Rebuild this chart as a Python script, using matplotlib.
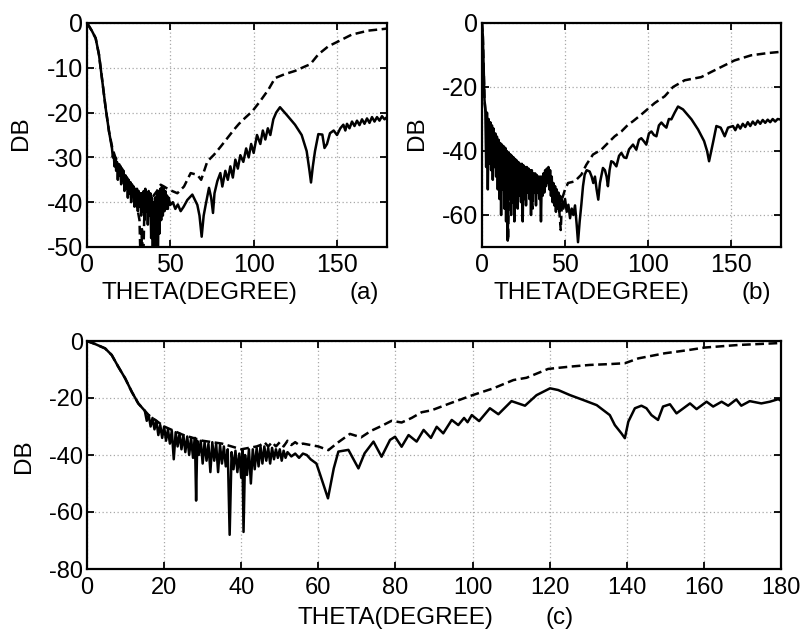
import matplotlib
matplotlib.use("Agg")
import matplotlib.pyplot as plt

plt.rcParams['font.family'] = ['Liberation Sans', 'DejaVu Sans']
plt.rcParams['axes.unicode_minus'] = False

# ---------------- panel (a) ----------------
theta_a_solid = [0, 1.2, 3, 5.2, 7.2, 9.2, 11.2, 13.2, 15,
    15.5, 16, 16.5, 17, 17.5, 18, 18.5, 19, 19.5, 20, 20.5, 21, 21.5, 22, 22.5, 23, 23.5, 24, 24.5,
    25, 25.5, 26, 26.5, 27, 27.5, 28, 28.5, 29, 29.5, 30, 30.5, 31, 31.5, 32, 32.5, 33, 33.5, 34, 34.5,
    35, 35.5, 36, 36.5, 37, 37.5, 38, 38.5, 39, 39.5, 40, 40.5, 41, 41.5, 42, 42.5, 43, 43.5, 44, 44.5,
    45, 45.5, 46, 46.5, 47, 47.5, 48, 48.5, 49, 50, 51.5, 53, 54.5, 56.2, 58, 60.2, 63.2, 66.2, 67.5, 68.8, 70,
    71.2, 73.2, 74.5, 75.6, 76.5, 78.2, 80, 81.2, 83, 84.5, 86, 87.5, 89, 90.5, 92, 93.8, 95.5, 97,
    98.5, 100, 102, 104, 105.5, 107, 108.5, 110, 111.8, 113.5, 115.8, 119.8, 124.8, 128.8, 131.8,
    133.5, 134.4, 135.5, 136.8, 138.8, 141.2, 142.5, 144, 145.8, 148, 150, 152, 153.8, 155, 156,
    157.5, 159, 160.5, 162, 163.5, 165, 166.5, 168, 169.5, 171, 172.5, 174, 175.5, 177, 178.5, 180]
db_a_solid = [0, -0.7, -1.8, -3.4, -7.1, -13, -19, -24.2, -28,
    -30, -29, -32, -30, -33, -31, -35, -31.5, -34, -32, -36, -32.5, -35, -33, -37.5, -34, -37, -34.5, -39,
    -35, -38, -35.5, -40, -36, -38.5, -36.5, -41, -37, -40, -37, -42, -37.5, -41, -38, -43, -38, -42, -37.5, -44,
    -37, -42, -38, -45, -37.5, -43, -38, -48, -39, -55, -40, -56, -39, -53, -38, -55, -37.5, -47, -37, -44,
    -36.5, -43, -37, -42, -37.5, -41.5, -38.5, -41.5, -39, -40.6, -40, -41.5, -40.5, -42, -41, -39.5, -38.3, -40.6, -43, -47.7, -43,
    -40.6, -36.8, -39, -42.4, -38, -35.3, -33.5, -36.5, -33, -35, -32, -34.5, -30.5, -32.5, -29.5, -31, -28, -30,
    -27, -29, -25, -27, -24, -26, -23.5, -25, -21.5, -20, -18.8, -20.5, -22.7, -25, -28.6,
    -33, -35.6, -32, -28.6, -24.8, -24.9, -27.9, -27, -24.6, -24, -25, -23.5, -22.7, -24, -22.5,
    -23.5, -22, -23, -21.8, -22.8, -21.5, -22.5, -21.3, -22.3, -21, -22, -21, -21.8, -20.8, -21.5, -21]

theta_a_dash = [0, 1.2, 3, 5.2, 7.2, 9.2, 11.2, 13.2, 15.2, 17, 20, 23, 26, 28, 30, 31.5, 32.3, 33,
    33.6, 34.3, 35.5, 37, 38.5, 40, 42, 44.2, 46.2, 49.2, 54.2, 58.2, 62.2, 66.2, 68.5, 72.2, 76.2,
    80.2, 84.2, 88.2, 91.2, 94.8, 99.2, 103.8, 108.8, 112.8, 118.8, 124.8, 130.8, 134, 138.8, 144.8,
    150.8, 158.8, 168.8, 178.8, 180]
db_a_dash = [0, -0.7, -1.8, -3.4, -7.1, -13, -19, -24.2, -27.9, -30, -32, -34, -36, -38, -41, -44, -56, -46,
    -56, -44, -41, -39, -40, -38.5, -37.5, -36.1, -36.5, -37.2, -38, -36.5, -33.5, -33.9, -35, -30.9, -29.4,
    -27.6, -25.7, -23.8, -22.5, -21.2, -19.7, -17.5, -14.9, -12.3, -11.4, -10.7, -9.7, -9.2, -7, -5.2,
    -4.1, -2.6, -1.7, -1.3, -1.2]

# ---------------- panel (b) ----------------
theta_b_solid = [0, 0.5, 1.0, 1.5, 2.0, 2.5, 3.0, 3.5, 4.0, 4.5, 5.0, 5.5, 6.0, 6.5, 7.0, 7.5, 8.0, 8.5,
    9.0, 9.5, 10.0, 10.5, 11.0, 11.5, 12.0, 12.5, 13.0, 13.5, 14.0, 14.5, 15.0, 15.5, 16.0, 16.5, 17.0,
    17.5, 18.0, 18.5, 19.0, 19.5, 20.0, 20.5, 21.0, 21.5, 22.0, 22.5, 23.0, 23.5, 24.0, 24.5, 25.0, 25.5,
    26.0, 26.5, 27.0, 27.5, 28.0, 28.5, 29.0, 29.5, 30.0, 30.5, 31.0, 31.5, 32.0, 32.5, 33.0, 33.5, 34.0,
    34.5, 35.0, 35.5, 36.0, 36.5, 37.0, 37.5, 38.0, 38.5, 39.0, 39.5, 40.0, 40.5, 41.0, 41.5, 42.0, 42.5,
    43.0, 43.5, 44.0, 44.5, 45.0, 45.5, 46.0, 46.5, 47.0, 48.0, 49.0, 50.0, 51.0, 52.0, 53.0, 54.0, 55.0,
    56.0, 57.0, 57.8, 58.8, 59.8, 60.8, 61.8, 63.0, 64.8, 66.0, 67.0, 68.0, 69.0, 70.0, 71.0, 72.8, 74.0,
    75.0, 75.8, 76.8, 77.8, 79.0, 80.9, 82.5, 83.9, 85.5, 86.9, 88.5, 90.9, 92.9, 94.5, 95.9, 97.5, 98.9,
    100.5, 102.0, 103.5, 105.0, 106.5, 108.0, 109.5, 111.0, 112.5, 114.0, 116.0, 118.0, 121.0, 124.0,
    126.1, 130.1, 133.7, 135.5, 136.7, 138.0, 139.1, 141.1, 143.7, 146.1, 148.1, 151.1, 152.5, 154,
    155.5, 157, 158.5, 160, 161.5, 163, 164.5, 166, 167.5, 169, 170.5, 172, 173.5, 175, 176.5, 178, 180]
db_b_solid = [0, -4, -14, -24, -27, -45, -28, -52, -30, -44, -31, -46, -32, -49, -33, -45, -34.5, -48,
    -35.5, -52, -36.5, -55, -37.5, -60, -38, -52, -38.5, -58, -39, -62, -40, -68, -40.5, -55, -41,
    -60, -41.5, -56, -42, -62, -42.5, -55, -43, -58, -43.5, -54, -44, -56, -44, -62, -44.5, -55,
    -45, -57, -45, -53, -45.5, -55, -46, -60, -46, -54, -47, -53, -47, -57, -47.5, -53, -48,
    -55, -48, -62, -48, -54, -47, -53, -46, -51, -45.5, -50, -45, -52, -46, -54, -48, -56,
    -50, -57, -51, -59, -52, -58, -53, -59, -54, -55, -58, -55, -59, -56.8, -61, -58, -60,
    -57, -63, -68.5, -62, -56.8, -51, -47.4, -46, -46.4, -48, -50, -48, -52, -55.2, -50, -45.3, -46,
    -48, -51, -46, -43.2, -43.5, -44.8, -41.5, -40.6, -42, -42.2, -39.5, -38, -39.6, -36.5, -36, -37, -38,
    -34.5, -33.9, -35, -35.4, -32, -31.1, -32, -32.7, -30, -30.1, -28, -26.1, -27, -28.8,
    -30.1, -33.3, -36.9, -40, -43.2, -40, -37.3, -32.2, -32.7, -35.4, -32.7, -32.2, -33.5, -31.8,
    -33, -31.5, -32.5, -31, -32.2, -30.8, -31.8, -30.5, -31.5, -30.3, -31.2, -30.2, -31, -30, -30.8, -30, -30.2]

theta_b_dash = [0, 0.5, 1, 1.5, 2, 3, 4, 5, 6, 7.5, 10, 12, 14, 15, 15.7, 16.4, 20, 25, 28, 30, 30.5, 31,
    35, 40, 44, 46, 47.4, 48.2, 50, 51.8, 55.8, 59.8, 62.8, 66.8, 71.8, 75.8, 79.9, 83.9, 87.9, 90.9,
    95.9, 104, 110, 115, 122, 132, 138, 144, 152, 162, 172, 180]
db_b_dash = [0, -4, -14, -24, -27, -30, -33, -35, -37, -40, -42, -45, -46, -50, -68, -48, -47, -48, -49, -50, -58, -50,
    -50, -49, -52, -55, -64.7, -55, -52, -50, -49.5, -47.4, -44.3, -41.1, -39.6, -37.5, -35.4, -33.9, -31.8, -30.7,
    -28.6, -25, -22.9, -20, -17.9, -16.9, -15.3, -13.75, -11.7, -10.1, -9.4, -9.0]

# ---------------- panel (c) ----------------
theta_c_solid = [0, 2, 4.7, 6.4, 8.1, 9.9, 11.6, 13.3, 15.0,
    15.5, 16.0, 16.5, 17.0, 17.5, 18.0, 18.5, 19.0, 19.5, 20.0, 20.5, 21.0, 21.5, 22.0, 22.5, 23.0, 23.5,
    24.0, 24.5, 25.0, 25.5, 26.0, 26.5, 27.0, 27.5, 28.0, 28.3, 28.6, 29.0, 29.5, 30.0, 30.5, 31.0, 31.5,
    32.0, 32.5, 33.0, 33.5, 34.0, 34.5, 35.0, 35.5, 36.0, 36.5, 37.0, 37.5, 38.0, 38.5, 39.0, 39.5, 40.0,
    40.3, 40.6, 41.0, 41.5, 42.0, 42.5, 43.0, 43.5, 44.0, 44.5, 45.0, 45.5, 46.0, 46.5, 47.0, 47.5, 48.0,
    48.5, 49.0, 49.5, 50.0, 50.5, 51.0, 51.5, 52.0, 53.0, 54.0, 55.0, 56.0, 57.0, 58.0, 59.5, 60.5, 62.5,
    64.0, 65.2, 67.8, 70.4, 72.0, 74.3, 76.4, 78.6, 79.9, 81.6, 83.4, 85.5, 87.3, 89.2, 90.7, 92.4, 94.6,
    96.3, 97.8, 98.7, 99.8, 101.7, 104.5, 106.7, 110.1, 113.6, 116.6, 120.1, 122.2, 125.3, 128.7, 132.2,
    135.6, 136.9, 138.6, 139.5, 140.4, 142.1, 143.8, 145.1, 146.4, 148.1, 149.4, 151.2, 152.9, 156.4,
    158.1, 160.7, 162.4, 164.6, 166.3, 168.4, 169.7, 171.9, 174.9, 177.1, 179.3, 180]
db_c_solid = [0, -1, -2.6, -4.9, -9, -13.1, -17.8, -21.9, -24.5,
    -28, -26, -30, -27, -31, -28, -33, -29.5, -34, -30, -35, -31, -36, -31.5, -41.5, -32, -37,
    -32.5, -38, -33, -39, -33.5, -40, -34, -41, -34, -56, -35, -40, -35, -43, -35.5, -42, -36,
    -46, -35.5, -42, -36, -46, -36.5, -43, -37, -44, -38, -68, -39, -45, -38.5, -46, -39.5, -48,
    -38, -67, -40, -47, -38, -50, -38, -45, -37.5, -44, -37, -43, -37, -42, -37.5, -43, -37.5,
    -41.5, -38, -41, -38, -42, -38.5, -41, -39, -40.5, -39.5, -41, -39.5, -40, -41.5, -43, -47, -55.2,
    -44.7, -38.8, -38.2, -44.7, -39.4, -35.3, -40.6, -34.7, -33.6, -37.1, -33, -35.3, -31.2, -34, -30.1, -32.4, -27.7,
    -29.5, -27, -28.5, -26, -28.1, -23.6, -25.7, -21.1, -22.7, -19, -16.6, -17.2, -19, -20.7, -22.5,
    -26, -29.5, -32.4, -34.1, -28.3, -23.6, -22.7, -23.6, -26, -27.7, -23, -22.2, -25.4, -21.9,
    -23.9, -21.3, -23, -21.3, -22.7, -20.5, -22.7, -21.1, -21.9, -21.3, -20.4, -21]

theta_c_dash = [0, 2, 4.7, 6.4, 8.1, 9.9, 11.6, 13.3, 16, 20, 25, 30, 35, 40, 44, 45, 46, 47, 48, 49, 50,
    51, 52, 53, 54, 55, 56, 58, 60, 62.6, 65.2, 68.2, 71.1, 73.7, 76.4, 79, 81.6, 84.2, 86.8, 89.4, 94.1,
    100, 105.4, 110.6, 114, 119.6, 125.2, 130.4, 135.6, 139.5, 143, 149.9, 155.9, 160.2, 168.9, 180]
db_c_dash = [0, -1, -2.6, -4.9, -9, -13.1, -17.8, -21.9, -26, -30, -33, -35, -36, -38, -37, -36.5, -35.5, -37, -35.5, -37, -35.5,
    -37, -35, -36.5, -35.5, -36.5, -36, -36.5, -37, -38.3, -35.5, -32.6, -33.8, -31.5, -29.8, -28, -28.6, -27, -25, -24.3, -21.9,
    -19, -16.6, -13.7, -12.9, -9.8, -9, -8.4, -8.1, -7.8, -6.1, -4.3, -3.2, -2.3, -1.4, -0.7]

W, H = 803, 630
fig = plt.figure(figsize=(W / 100, H / 100), dpi=100)


def px_axes(l, t, r, b):
    return fig.add_axes([l / W, 1 - b / H, (r - l) / W, (b - t) / H])


def style(ax, xt, yt, ylim, fs, xpad):
    ax.set_xlim(0, 180)
    ax.set_ylim(*ylim)
    ax.set_xticks(xt)
    ax.set_yticks(yt)
    ax.grid(True, linestyle=(0, (1, 2)), color='#a8a8a8', linewidth=0.9)
    ax.tick_params(direction='in', length=5, width=1.3, top=True, right=True,
                   labelsize=fs, pad=3)
    ax.tick_params(axis='x', pad=xpad)
    for s in ax.spines.values():
        s.set_linewidth(1.6)
        s.set_color('black')


LW = 1.8
DASH = (0, (3.5, 1.8))

ax_a = px_axes(87, 23, 387, 247)
ax_a.plot(theta_a_dash, db_a_dash, color='black', lw=LW, linestyle=DASH)
ax_a.plot(theta_a_solid, db_a_solid, color='black', lw=LW)
style(ax_a, [0, 50, 100, 150], [-50, -40, -30, -20, -10, 0], (-50, 0), 18, 4)

ax_b = px_axes(482, 23, 781, 247)
ax_b.plot(theta_b_dash, db_b_dash, color='black', lw=LW, linestyle=DASH)
ax_b.plot(theta_b_solid, db_b_solid, color='black', lw=LW)
style(ax_b, [0, 50, 100, 150], [-60, -40, -20, 0], (-70, 0), 18, 4)

ax_c = px_axes(87, 341, 781, 569)
ax_c.plot(theta_c_dash, db_c_dash, color='black', lw=LW, linestyle=DASH)
ax_c.plot(theta_c_solid, db_c_solid, color='black', lw=LW)
style(ax_c, list(range(0, 181, 20)), [-80, -60, -40, -20, 0], (-80, 0), 17, 6)

LFS = 17.5


def ftext(x, y, s, **kw):
    fig.text(x / W, 1 - y / H, s, fontsize=LFS, ha='center', va='center', **kw)


ftext(199, 293, 'THETA(DEGREE)')
ftext(364, 293, '(a)')
ftext(21, 133, 'DB', rotation=90)
ftext(591, 293, 'THETA(DEGREE)')
ftext(756, 293, '(b)')
ftext(417, 133, 'DB', rotation=90)
ftext(395, 618, 'THETA(DEGREE)')
ftext(560, 618, '(c)')
ftext(24, 456, 'DB', rotation=90)

fig.savefig('out.png', dpi=100)
